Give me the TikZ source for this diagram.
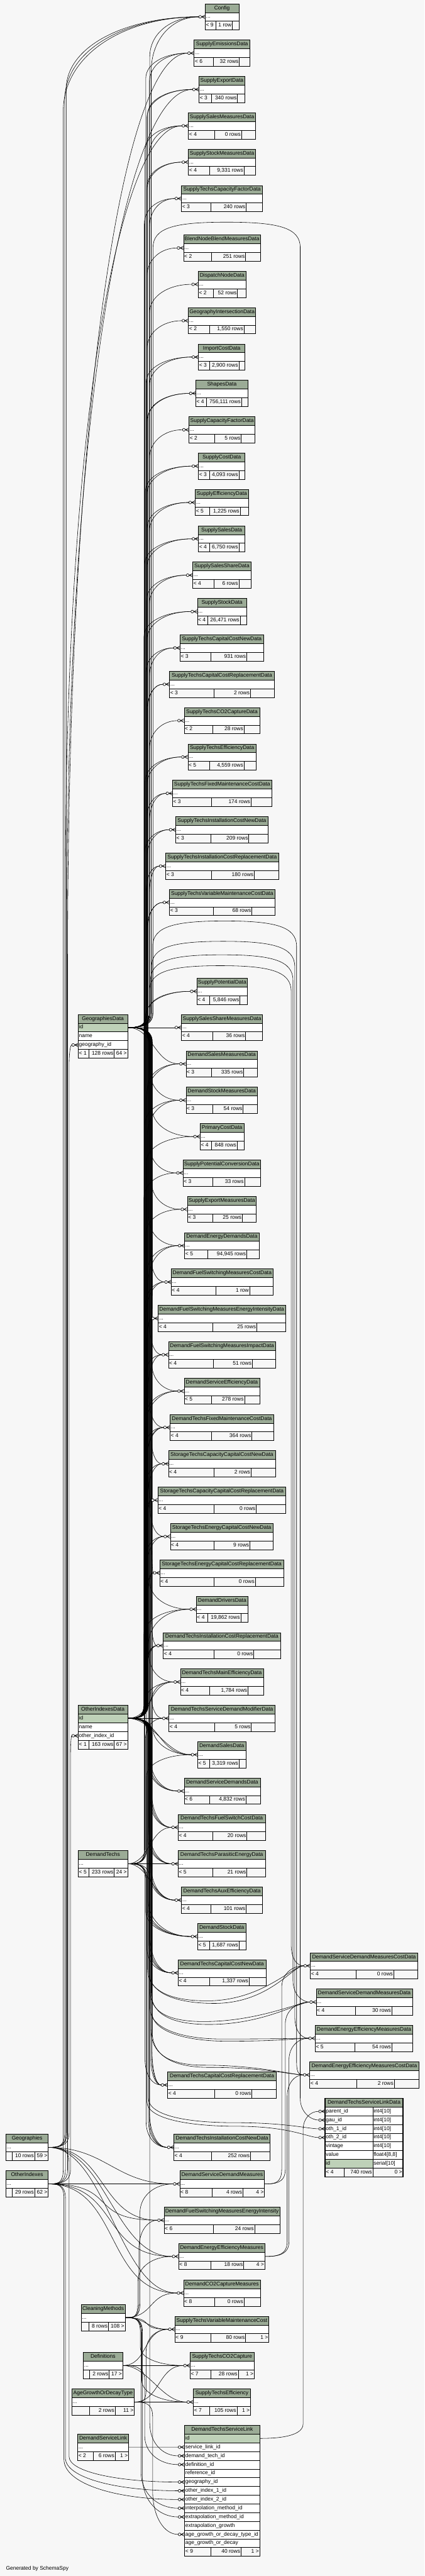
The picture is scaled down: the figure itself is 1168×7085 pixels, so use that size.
\documentclass[tikz,border=0pt]{standalone}
\usepackage{fontspec}
\setmainfont{Liberation Sans}
\usetikzlibrary{calc}
\definecolor{bgc}{HTML}{F7F7F7}
\definecolor{hdrc}{HTML}{9BAB96}
\definecolor{keyc}{HTML}{BED1B8}
\pgfdeclarelayer{bg}
\pgfsetlayers{bg,main}
\tikzset{
 tb/.style={draw=black, line width=1pt},
 txt/.style={inner sep=0pt, font=\fontsize{14.67pt}{16pt}\selectfont, text height=10.5pt, text depth=3pt},
 fkl/.style={draw=black, line width=1pt},
 fkm/.style={draw=black, line width=1.1pt},
}
% table pieces
\newcommand\Thd[5]{%
 \draw[tb, fill=hdrc] (#2,#4) rectangle (#3,#4+24);
 \node[txt] (#1) at ({(#2+#3)/2},#4+12) {#5};
 \coordinate (#1-in) at (#2-18,#4+36);
 \coordinate (#1-out) at (#3,#4+36);}
\newcommand\Trw[6]{%
 \draw[tb, fill=#6] (#2,#4) rectangle (#3,#4+24);
 \node[txt, anchor=west] (#1) at (#2+2,#4+12) {#5};}
\newcommand\Trwtwo[8]{%
 \draw[tb, fill=#8] (#2,#5) rectangle (#3,#5+24);
 \draw[tb, fill=white] (#3,#5) rectangle (#4,#5+24);
 \node[txt, anchor=west] (#1-a) at (#2+2,#5+12) {#6};
 \node[txt, anchor=west] (#1-b) at (#3+2,#5+12) {#7};}
\newcommand\Tft[9]{%
 \draw[tb, fill=bgc] (#2,#6) rectangle (#5,#6+24) (#3,#6) -- (#3,#6+24) (#4,#6) -- (#4,#6+24);
 \node[txt, anchor=west] (#1-a) at (#2+2,#6+12) {#7};
 \node[txt, anchor=east] (#1-b) at (#4-2,#6+12) {#8};
 \node[txt, anchor=east] (#1-c) at (#5-2,#6+12) {#9};}
\newcommand\Tstd[9]{%
 \Thd{#1}{#2}{#3}{#4}{#7}%
 \Trw{#1-r}{#2}{#3}{#4+24}{...}{white}%
 \Tft{#1-f}{#2}{#5}{#6}{#3}{#4+48}{#8}{#9}{}}
\newcommand\Tthree[4]{\node[txt, anchor=east] (#1-f3) at (#2-2,#3+60) {#4};}
% connectors
\newcommand\Efk[4]{%
\draw[fkl] let \p1=(#1), \p2=(#2), \n1={2*((\y2)>(\y1))-1}, \n2={min(#4,abs((\y2)-(\y1))-50)} in
 (\p1) .. controls ({\x1+25},\y1) and (#3,\y1) .. (#3,{\y1+(\n1)*40})
 -- (#3,{\y2-(\n1)*(\n2)}) .. controls (#3,{\y2-(\n1)*(\n2)*0.4}) and ({\x2-(\x2-#3)*0.55},\y2) .. (\p2);}
\newcommand\Efkd[3]{\draw[fkl] (#1) .. controls +(#3,0) and +(-#3,0) .. (#2);}
\newcommand\Earc[5]{%
\draw[fkl] let \p1=(#1), \p2=(#2) in
 (\p1) .. controls ({\x1+25},\y1) and (#3,\y1) .. (#3,{\y1+40})
 -- (#3,#4+70) .. controls (#3,#4+15) and (#3+60,#4) .. ({(#3+#5)/2},#4)
 .. controls (#5-60,#4) and (#5,#4+15) .. (#5,#4+70)
 -- (#5,{\y2+60}) .. controls (#5,{\y2+20}) and ({\x2-20},\y2) .. (\p2);}
\newcommand\Edip[6]{%
\draw[fkl] let \p1=(#1), \p2=(#2) in
 (\p1) .. controls ({\x1+25},\y1) and (#3,\y1) .. (#3,{\y1-40})
 -- (#3,#4) .. controls (#3,#4+50) and (#6-120,#5) .. (#6,#5)
 .. controls (#6+150,#5) and ({\x2-30},\y2) .. (\p2);}
\newcommand\Ecrow[1]{%
 \draw[fkm, fill=bgc] ($(#1)+(4,0)$) circle[radius=3.8pt];
 \draw[fkm] ($(#1)+(8,0)$) -- ($(#1)+(18,-5)$) ($(#1)+(8,0)$) -- ($(#1)+(18,0)$) ($(#1)+(8,0)$) -- ($(#1)+(18,5)$);}

\begin{document}
\begin{tikzpicture}[x=1pt,y=-1pt]
\begin{pgfonlayer}{bg}\fill[bgc] (0,0) rectangle (1168,7085);\end{pgfonlayer}
\useasboundingbox (0,0) rectangle (1168,7085);

% ---------- central column ----------
\Tstd{t1}{564.6}{657.0}{10.3}{594.4}{639.1}{Config}{< 9}{1 row}
\Tstd{t2}{534.1}{687.5}{110.3}{586.2}{658.5}{SupplyEmissionsData}{< 6}{32 rows}
\Tstd{t3}{547.5}{673.4}{210}{581.0}{653.3}{SupplyExportData}{< 3}{340 rows}
\Tstd{t4}{518.4}{703.2}{310}{590.7}{664.4}{SupplySalesMeasuresData}{< 4}{0 rows}
\Tstd{t5}{518.4}{703.2}{410}{575.8}{671.2}{SupplyStockMeasuresData}{< 4}{9,331 rows}
\Tstd{t6}{499.1}{722.5}{510}{580.3}{677.1}{SupplyTechsCapacityFactorData}{< 3}{240 rows}
\Tstd{t7}{505.0}{716.6}{646}{582.5}{675.6}{BlendNodeBlendMeasuresData}{< 2}{251 rows}
\Tstd{t8}{545.3}{677.1}{746}{587.0}{653.3}{DispatchNodeData}{< 2}{52 rows}
\Tstd{t9}{518.4}{703.2}{846}{575.8}{671.2}{GeographyIntersectionData}{< 2}{1,550 rows}
\Tstd{t10}{546.0}{674.1}{946}{575.8}{657.0}{ImportCostData}{< 3}{2,900 rows}
\Tstd{t11}{538.6}{682.3}{1046}{567.6}{664.4}{ShapesData}{< 4}{756,111 rows}
\Tstd{t12}{519.9}{701.7}{1146}{590.7}{663.7}{SupplyCapacityFactorData}{< 2}{5 rows}
\Tstd{t13}{546.0}{674.1}{1246}{575.8}{657.0}{SupplyCostData}{< 3}{4,093 rows}
\Tstd{t14}{537.1}{683.8}{1346}{575.8}{660.7}{SupplyEfficiencyData}{< 5}{1,225 rows}
\Tstd{t15}{546.0}{674.1}{1446}{575.8}{657.0}{SupplySalesData}{< 4}{6,750 rows}
\Tstd{t16}{530.4}{690.5}{1546}{588.5}{657.0}{SupplySalesShareData}{< 4}{6 rows}
\Tstd{t17}{543.0}{678.6}{1646}{572.1}{660.7}{SupplyStockData}{< 4}{26,471 rows}
\Tstd{t18}{495.4}{724.8}{1746}{580.3}{678.6}{SupplyTechsCapitalCostNewData}{< 3}{931 rows}
\Tstd{t19}{466.3}{754.6}{1846}{588.5}{689.0}{SupplyTechsCapitalCostReplacementData}{< 3}{2 rows}
\Tstd{t20}{506.5}{714.4}{1946}{585.5}{671.2}{SupplyTechsCO2CaptureData}{< 2}{28 rows}
\Tstd{t21}{517.0}{704.7}{2046}{575.8}{671.2}{SupplyTechsEfficiencyData}{< 5}{4,559 rows}
\Tstd{t22}{474.5}{747.9}{2146}{582.5}{690.5}{SupplyTechsFixedMaintenanceCostData}{< 3}{174 rows}
\Tstd{t23}{483.4}{737.4}{2246}{580.3}{684.6}{SupplyTechsInstallationCostNewData}{< 3}{209 rows}
\Tstd{t24}{455.9}{766.5}{2346}{582.5}{699.5}{SupplyTechsInstallationCostReplacementData}{< 3}{180 rows}
\Tstd{t25}{466.3}{756.1}{2446}{587.0}{692.8}{SupplyTechsVariableMaintenanceCostData}{< 3}{68 rows}
\Tstd{t26}{541.5}{680.8}{2690.5}{575.8}{660.0}{SupplyPotentialData}{< 4}{5,846 rows}
\Tstd{t27}{499.1}{722.5}{2790}{585.5}{675.6}{SupplySalesShareMeasuresData}{< 4}{36 rows}
\Tstd{t28}{511.7}{708.4}{2890}{581.0}{670.4}{DemandSalesMeasuresData}{< 3}{335 rows}
\Tstd{t29}{511.7}{708.4}{2990}{585.5}{668.9}{DemandStockMeasuresData}{< 3}{54 rows}
\Tstd{t30}{550.5}{671.2}{3090}{582.5}{652.5}{PrimaryCostData}{< 4}{848 rows}
\Tstd{t31}{503.5}{716.6}{3190}{585.5}{672.6}{SupplyPotentialConversionData}{< 3}{33 rows}
\Tstd{t32}{515.5}{704.7}{3290}{585.5}{666.7}{SupplyExportMeasuresData}{< 3}{25 rows}
\Tstd{t33}{508.0}{712.9}{3390}{572.1}{678.6}{DemandEnergyDemandsData}{< 5}{94,945 rows}
\Tstd{t34}{470.8}{751.6}{3490}{594.4}{686.8}{DemandFuelSwitchingMeasuresCostData}{< 4}{1 row}
\Tstd{t35}{435.0}{785.1}{3590}{585.5}{706.2}{DemandFuelSwitchingMeasuresEnergyIntensityData}{< 4}{25 rows}
\Tstd{t36}{463.3}{758.3}{3690}{587.0}{694.2}{DemandFuelSwitchingMeasuresImpactData}{< 4}{51 rows}
\Tstd{t37}{506.5}{714.4}{3790}{581.0}{672.6}{DemandServiceEfficiencyData}{< 5}{278 rows}
\Tstd{t38}{467.8}{753.1}{3890}{581.0}{692.8}{DemandTechsFixedMaintenanceCostData}{< 4}{364 rows}
\Tstd{t39}{463.3}{757.5}{3990}{588.5}{690.5}{StorageTechsCapacityCapitalCostNewData}{< 4}{2 rows}
\Tstd{t40}{434.3}{786.6}{4090}{588.5}{704.7}{StorageTechsCapacityCapitalCostReplacementData}{< 4}{0 rows}
\Tstd{t41}{468.5}{751.6}{4190}{588.5}{687.5}{StorageTechsEnergyCapitalCostNewData}{< 4}{9 rows}
\Tstd{t42}{439.5}{780.6}{4290}{588.5}{702.4}{StorageTechsEnergyCapitalCostReplacementData}{< 4}{0 rows}
\Tstd{t43}{540.0}{682.3}{4390}{572.1}{662.2}{DemandDriversData}{< 4}{19,862 rows}
\Tstd{t44}{449.2}{771.7}{4490}{588.5}{698.0}{DemandTechsInstallationCostReplacementData}{< 4}{0 rows}
\Tstd{t45}{496.1}{724.8}{4590}{575.8}{682.3}{DemandTechsMainEfficiencyData}{< 4}{1,784 rows}
\Tstd{t46}{464.8}{756.8}{4690}{590.7}{691.3}{DemandTechsServiceDemandModifierData}{< 4}{5 rows}
\Tstd{t47}{543.8}{676.4}{4790}{575.8}{657.7}{DemandSalesData}{< 5}{3,319 rows}
\Tstd{t48}{506.5}{715.8}{4890}{575.8}{676.4}{DemandServiceDemandsData}{< 6}{4,832 rows}
\Tstd{t49}{490.1}{730.0}{4990}{585.5}{679.3}{DemandTechsFuelSwitchCostData}{< 4}{20 rows}
\Tstd{t50}{490.1}{730.0}{5090}{585.5}{679.3}{DemandTechsParasiticEnergyData}{< 5}{21 rows}
\Tstd{t51}{499.1}{722.5}{5190}{580.3}{677.1}{DemandTechsAuxEfficiencyData}{< 4}{101 rows}
\Tstd{t52}{543.8}{676.4}{5290}{575.8}{657.7}{DemandStockData}{< 5}{1,687 rows}
\Tstd{t53}{490.1}{731.5}{5390}{575.8}{685.3}{DemandTechsCapitalCostNewData}{< 4}{1,337 rows}
\Tstd{t54}{461.1}{760.5}{5698.5}{590.7}{692.8}{DemandTechsCapitalCostReplacementData}{< 4}{0 rows}
\Tstd{t55}{478.2}{743.4}{5870}{582.5}{689.0}{DemandTechsInstallationCostNewData}{< 4}{252 rows}
\Tstd{t56}{494.6}{727.8}{5970.6}{584.0}{668.2}{DemandServiceDemandMeasures}{< 8}{4 rows}
\Tthree{t56}{727.8}{5970.6}{4 >}
\Tstd{t57}{451.4}{770.2}{6070.4}{587.0}{700.2}{DemandFuelSwitchingMeasuresEnergyIntensity}{< 6}{24 rows}
\Tstd{t58}{491.6}{728.5}{6170}{579.5}{670.4}{DemandEnergyEfficiencyMeasures}{< 8}{18 rows}
\Tthree{t58}{728.5}{6170}{4 >}
\Tstd{t59}{505.0}{716.6}{6270.6}{590.7}{671.2}{DemandCO2CaptureMeasures}{< 8}{0 rows}
\Tstd{t60}{481.2}{739.7}{6370.4}{579.5}{675.6}{SupplyTechsVariableMaintenanceCost}{< 9}{80 rows}
\Tthree{t60}{739.7}{6370.4}{1 >}
\Tstd{t61}{522.9}{699.5}{6470}{579.5}{655.5}{SupplyTechsCO2Capture}{< 7}{28 rows}
\Tthree{t61}{699.5}{6470}{1 >}
\Tstd{t62}{531.9}{689.0}{6570.5}{575.8}{651.8}{SupplyTechsEfficiency}{< 7}{105 rows}
\Tthree{t62}{689.0}{6570.5}{1 >}

% DemandTechsServiceLink
\Thd{DTSL}{508.0}{714.4}{6670.5}{DemandTechsServiceLink}
\Trw{DTSL-r1}{508.0}{714.4}{6694.5}{id}{keyc}
\Trw{DTSL-r2}{508.0}{714.4}{6718.5}{service\_link\_id}{white}
\Trw{DTSL-r3}{508.0}{714.4}{6742.5}{demand\_tech\_id}{white}
\Trw{DTSL-r4}{508.0}{714.4}{6766.5}{definition\_id}{white}
\Trw{DTSL-r5}{508.0}{714.4}{6790.5}{reference\_id}{white}
\Trw{DTSL-r6}{508.0}{714.4}{6814.5}{geography\_id}{white}
\Trw{DTSL-r7}{508.0}{714.4}{6838.5}{other\_index\_1\_id}{white}
\Trw{DTSL-r8}{508.0}{714.4}{6862.5}{other\_index\_2\_id}{white}
\Trw{DTSL-r9}{508.0}{714.4}{6886.5}{interpolation\_method\_id}{white}
\Trw{DTSL-r10}{508.0}{714.4}{6910.5}{extrapolation\_method\_id}{white}
\Trw{DTSL-r11}{508.0}{714.4}{6934.5}{extrapolation\_growth}{white}
\Trw{DTSL-r12}{508.0}{714.4}{6958.5}{age\_growth\_or\_decay\_type\_id}{white}
\Trw{DTSL-r13}{508.0}{714.4}{6982.5}{age\_growth\_or\_decay}{white}
\Tft{DTSL-f}{508.0}{579.5}{663.0}{714.4}{7006.5}{< 9}{40 rows}{1 >}
\coordinate (DTSL-sl) at (490,6730.5);
\coordinate (DTSL-dt) at (490,6754.5);
\coordinate (DTSL-def) at (490,6778.5);
\coordinate (DTSL-geo) at (490,6826.5);
\coordinate (DTSL-o1) at (490,6850.5);
\coordinate (DTSL-o2) at (490,6874.5);
\coordinate (DTSL-ip) at (490,6898.5);
\coordinate (DTSL-ep) at (490,6922.5);
\coordinate (DTSL-age) at (490,6970.5);

% ---------- right column ----------
\Tstd{R1}{853.6}{1149.4}{5370.6}{980.3}{1083.1}{DemandServiceDemandMeasuresCostData}{< 4}{0 rows}
\Tstd{R2}{870.0}{1134.5}{5470.4}{977.3}{1077.9}{DemandServiceDemandMeasuresData}{< 4}{30 rows}
\Tstd{R3}{867.1}{1136.0}{5570}{975.8}{1077.9}{DemandEnergyEfficiencyMeasuresData}{< 5}{54 rows}
\Tstd{R4}{852.2}{1152.3}{5670.6}{981.8}{1084.6}{DemandEnergyEfficiencyMeasuresCostData}{< 4}{2 rows}

% focus table
\Thd{F}{894.6}{1108.4}{5771}{DemandTechsServiceLinkData}
\Trwtwo{F-r1}{894.6}{1025.7}{1108.4}{5795}{parent\_id}{int4[10]}{white}
\Trwtwo{F-r2}{894.6}{1025.7}{1108.4}{5819}{gau\_id}{int4[10]}{white}
\Trwtwo{F-r3}{894.6}{1025.7}{1108.4}{5843}{oth\_1\_id}{int4[10]}{white}
\Trwtwo{F-r4}{894.6}{1025.7}{1108.4}{5867}{oth\_2\_id}{int4[10]}{white}
\Trwtwo{F-r5}{894.6}{1025.7}{1108.4}{5891}{vintage}{int4[10]}{white}
\Trwtwo{F-r6}{894.6}{1025.7}{1108.4}{5915}{value}{float4[8,8]}{white}
\Trwtwo{F-r7}{894.6}{1025.7}{1108.4}{5939}{id}{serial[10]}{keyc}
\Tft{F-f}{894.6}{946.0}{1025.7}{1108.4}{5963}{< 4}{740 rows}{0 >}
\draw[line width=2.6pt] (894.6,5771) rectangle (1108.4,5987);
\coordinate (F-pid) at (876.6,5807);
\coordinate (F-gau) at (876.6,5831);
\coordinate (F-o1) at (876.6,5855);
\coordinate (F-o2) at (876.6,5879);

% ---------- left column ----------
\Thd{GD}{215.3}{350.8}{2790}{GeographiesData}
\Trw{GD-r1}{215.3}{350.8}{2814}{id}{keyc}
\Trw{GD-r2}{215.3}{350.8}{2838}{name}{white}
\Trw{GD-r3}{215.3}{350.8}{2862}{geography\_id}{white}
\Tft{GD-f}{215.3}{244.3}{314.3}{350.8}{2886}{< 1}{128 rows}{64 >}
\coordinate (GD-geo) at (197.3,2874);

\Thd{OD}{215.3}{350.8}{4690}{OtherIndexesData}
\Trw{OD-r1}{215.3}{350.8}{4714}{id}{keyc}
\Trw{OD-r2}{215.3}{350.8}{4738}{name}{white}
\Trw{OD-r3}{215.3}{350.8}{4762}{other\_index\_id}{white}
\Tft{OD-f}{215.3}{244.3}{314.3}{350.8}{4786}{< 1}{163 rows}{67 >}
\coordinate (OD-oth) at (197.3,4774);

\Thd{DT}{215.3}{350.8}{5090}{DemandTechs}
\Trw{DT-r}{215.3}{350.8}{5114}{...}{white}
\Tft{DT-f}{215.3}{244.3}{314.3}{350.8}{5138}{< 5}{233 rows}{24 >}

\Thd{GEO}{16.4}{132.6}{5870}{Geographies}
\Trw{GEO-r}{16.4}{132.6}{5894}{...}{white}
\Tft{GEO-f}{16.4}{33.5}{95.3}{132.6}{5918}{}{10 rows}{59 >}

\Thd{OI}{16.4}{132.6}{5970.6}{OtherIndexes}
\Trw{OI-r}{16.4}{132.6}{5994.6}{...}{white}
\Tft{OI-f}{16.4}{33.5}{95.3}{132.6}{6018.6}{}{29 rows}{62 >}

\Thd{CM}{223.5}{344.1}{6338.3}{CleaningMethods}
\Trw{CM-r}{223.5}{344.1}{6362.3}{...}{white}
\Tft{CM-f}{223.5}{243.6}{298.0}{344.1}{6386.3}{}{8 rows}{108 >}

\Thd{DEF}{229.4}{337.4}{6470}{Definitions}
\Trw{DEF-r}{229.4}{337.4}{6494}{...}{white}
\Tft{DEF-f}{229.4}{246.6}{300.2}{337.4}{6518}{}{2 rows}{17 >}

\Thd{AG}{197.4}{369.5}{6570.5}{AgeGrowthOrDecayType}
\Trw{AG-r}{197.4}{369.5}{6594.5}{...}{white}
\Tft{AG-f}{197.4}{246.6}{316.6}{369.5}{6618.5}{}{2 rows}{11 >}

\Thd{DSL}{213.8}{353.8}{6694.4}{DemandServiceLink}
\Trw{DSL-r}{213.8}{353.8}{6718.4}{...}{white}
\Tft{DSL-f}{213.8}{257.0}{316.6}{353.8}{6742.4}{< 2}{6 rows}{1 >}

\node[txt, anchor=west] (gen) at (16.4,7065) {Generated by SchemaSpy};

% ---------- connectors ----------
\begin{pgfonlayer}{bg}
% GeographiesData
\Efk{GD-out}{t1-in}{412}{110}
\Efk{GD-out}{t1-in}{416}{150}
\foreach \k [count=\i] in {2,...,26}{\pgfmathsetmacro\bx{404+mod(\i*7,14)}\Efk{GD-out}{t\k-in}{\bx}{80}}
\Efkd{GD-out}{t27-in}{40}
\Efkd{GD-out}{t28-in}{70}
\foreach \k [count=\i] in {29,...,55}{\pgfmathsetmacro\bx{408+mod(\i*5,12)}\Efk{GD-out}{t\k-in}{\bx}{80}}
\Earc{GD-out}{F-gau}{421}{611}{826}
\Earc{GD-out}{R4-in}{420}{2533}{816}
\Earc{GD-out}{R3-in}{417}{2589}{811}
\Earc{GD-out}{R2-in}{414}{2626}{806}
\Earc{GD-out}{R1-in}{411}{2656}{801}
% OtherIndexesData
\foreach \k [count=\i] in {2,3,4,5,6,10,11,13,14,15,16,17,18,19,21,22,23,24,25,26,28,29,30,31,32,33,34,35,36,37,38,39,40,41,42,43,44}{\pgfmathsetmacro\bx{396+mod(\i*5,12)}\Efk{OD-out}{t\k-in}{\bx}{70}}
\foreach \k [count=\i] in {28,29,33,34,35,36,37,38,39,40,41,42,43,44}{\pgfmathsetmacro\bx{399+mod(\i*3,10)}\Efk{OD-out}{t\k-in}{\bx}{100}}
\Efkd{OD-out}{t45-in}{70}
\Efkd{OD-out}{t45-in}{95}
\Efkd{OD-out}{t46-in}{40}
\Efkd{OD-out}{t47-in}{70}
\Efkd{OD-out}{t47-in}{95}
\foreach \k [count=\i] in {48,...,55}{\pgfmathsetmacro\bx{404+mod(\i*5,12)}\pgfmathsetmacro\bxx{\bx+3}\Efk{OD-out}{t\k-in}{\bx}{75}\Efk{OD-out}{t\k-in}{\bxx}{100}}
\Edip{OD-out}{R1-in}{406}{5415}{5503}{570}
\Edip{OD-out}{R1-in}{410}{5425}{5510}{590}
\Edip{OD-out}{R2-in}{412}{5470}{5560}{560}
\Edip{OD-out}{R2-in}{416}{5480}{5568}{575}
\Edip{OD-out}{R3-in}{413}{5525}{5608}{610}
\Edip{OD-out}{R3-in}{418}{5535}{5614}{625}
\Edip{OD-out}{R4-in}{415}{5580}{5680}{560}
\Edip{OD-out}{R4-in}{419}{5590}{5686}{575}
\Edip{OD-out}{F-o1}{408}{5770}{5838}{640}
\Edip{OD-out}{F-o2}{404}{5780}{5848}{650}
% DemandTechs
\foreach \k [count=\i] in {38,44,45,46,47}{\pgfmathsetmacro\bx{396+mod(\i*3,8)}\Efk{DT-out}{t\k-in}{\bx}{60}}
\Efkd{DT-out}{t49-in}{60}
\Efkd{DT-out}{t50-in}{40}
\Efkd{DT-out}{t51-in}{60}
\foreach \k [count=\i] in {52,53,54,55}{\pgfmathsetmacro\bx{398+mod(\i*3,8)}\Efk{DT-out}{t\k-in}{\bx}{70}}
\Efk{DT-out}{DTSL-dt}{412}{90}
% Geographies / OtherIndexes
\Efk{GEO-out}{t1-in}{178}{230}
\Efk{GEO-out}{t1-in}{182}{200}
\Efk{OI-out}{t1-in}{174}{260}
\Efk{OI-out}{t2-in}{186}{2500}
\Efk{GEO-out}{t3-in}{184}{2300}
\Efk{OI-out}{t4-in}{180}{2100}
\Efk{GEO-out}{GD-geo}{190}{60}
\Efk{OI-out}{OD-oth}{194}{60}
\Efk{GEO-out}{DTSL-geo}{190}{70}
\Efk{OI-out}{DTSL-o1}{180}{90}
\Efk{OI-out}{DTSL-o2}{176}{110}
\foreach \k in {56,57,58,59}{\Efkd{GEO-out}{t\k-in}{160}\Efkd{OI-out}{t\k-in}{200}}
% CleaningMethods
\Efk{CM-out}{t56-in}{385}{80}
\Efk{CM-out}{t57-in}{382}{80}
\Efk{CM-out}{t58-in}{379}{70}
\Efkd{CM-out}{t59-in}{80}
\Efkd{CM-out}{t60-in}{60}
\Efkd{CM-out}{t60-in}{90}
\Efk{CM-out}{t61-in}{386}{50}
\Efk{CM-out}{t62-in}{390}{60}
\Efk{CM-out}{DTSL-ip}{388}{100}
\Efk{CM-out}{DTSL-ep}{392}{110}
% Definitions, AgeGrowthOrDecayType, DemandServiceLink
\Efkd{DEF-out}{t61-in}{40}
\Efkd{DEF-out}{t60-in}{70}
\Efkd{DEF-out}{t62-in}{70}
\Efk{DEF-out}{DTSL-def}{398}{80}
\Efkd{AG-out}{t62-in}{40}
\Efkd{AG-out}{t61-in}{70}
\Efk{AG-out}{t60-in}{402}{60}
\Efk{AG-out}{DTSL-age}{420}{120}
\Efkd{DSL-out}{DTSL-sl}{40}
% measures to right-hand tables
\Efk{t56-out}{R1-in}{775}{60}
\Efk{t56-out}{R2-in}{785}{60}
\Efk{t58-out}{R3-in}{795}{60}
\Efk{t58-out}{R4-in}{790}{60}
\Efk{DTSL-out}{F-pid}{834}{50}
\end{pgfonlayer}

% ---------- crow's feet ----------
\foreach \k in {1,...,62}{\Ecrow{t\k-in}}
\foreach \c in {R1-in,R2-in,R3-in,R4-in,F-pid,F-gau,F-o1,F-o2,GD-geo,OD-oth,DTSL-sl,DTSL-dt,DTSL-def,DTSL-geo,DTSL-o1,DTSL-o2,DTSL-ip,DTSL-ep,DTSL-age}{\Ecrow{\c}}
\end{tikzpicture}
\end{document}
